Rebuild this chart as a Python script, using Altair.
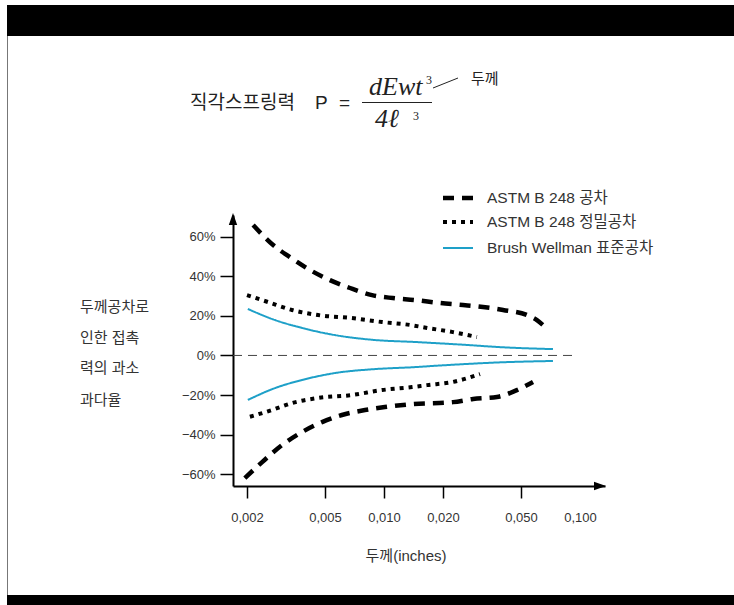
import altair as alt
import pandas as pd

series = ["ASTM B 248 공차", "ASTM B 248 정밀공차", "Brush Wellman 표준공차"]

# ASTM B 248 공차 (dashed)
astm_up_x = [0.00215, 0.00272, 0.00331, 0.00419, 0.00530, 0.00671, 0.00869, 0.0111, 0.0144, 0.0193, 0.0253, 0.0320, 0.0405, 0.0537, 0.0603, 0.0647]
astm_up_y = [65.9, 55.8, 49.7, 43.2, 38.1, 34.1, 30.5, 29.0, 28.0, 26.5, 25.5, 24.5, 23.0, 20.4, 17.9, 15.4]
astm_lo_x = [0.00195, 0.00239, 0.00302, 0.00382, 0.00483, 0.00610, 0.00800, 0.0101, 0.0139, 0.0225, 0.0285, 0.0377, 0.0477, 0.0576]
astm_lo_y = [-62.0, -53.9, -45.3, -38.7, -33.7, -30.1, -27.6, -26.1, -24.6, -23.6, -22.0, -21.0, -17.5, -13.4]

# ASTM B 248 정밀공차 (dotted)
prec_up_x = [0.00200, 0.00256, 0.00339, 0.00461, 0.00687, 0.00977, 0.0136, 0.0166, 0.0225, 0.0298]
prec_up_y = [30.5, 27.0, 23.0, 20.4, 18.9, 16.9, 15.4, 13.9, 11.8, 9.3]
prec_lo_x = [0.00207, 0.00268, 0.00339, 0.00461, 0.00687, 0.00977, 0.0139, 0.0166, 0.0225, 0.0309]
prec_lo_y = [-31.0, -27.6, -24.1, -21.5, -20.0, -17.5, -16.0, -15.0, -13.4, -9.4]

# Brush Wellman 표준공차 (solid blue)
bw_x = [0.00202, 0.00278, 0.00382, 0.00562, 0.00900, 0.0144, 0.0178, 0.0265, 0.0391, 0.0728]
bw_up_y = [23.5, 17.9, 13.9, 10.3, 7.8, 6.8, 6.3, 5.3, 4.2, 3.2]
bw_lo_y = [-22.5, -16.5, -12.4, -8.9, -6.9, -5.9, -5.3, -4.3, -3.5, -2.8]

x_ticks = [0.002, 0.005, 0.010, 0.020, 0.050, 0.100]
y_ticks = [-60, -40, -20, 0, 20, 40, 60]

rows = []
def add(name, part, xs, ys):
    for xv, yv in zip(xs, ys):
        rows.append({"series": name, "curve": name + part, "x": xv, "y": yv})

add(series[0], "+", astm_up_x, astm_up_y)
add(series[0], "-", astm_lo_x, astm_lo_y)
add(series[1], "+", prec_up_x, prec_up_y)
add(series[1], "-", prec_lo_x, prec_lo_y)
add(series[2], "+", bw_x, bw_up_y)
add(series[2], "-", bw_x, bw_lo_y)
df = pd.DataFrame(rows)

one = pd.DataFrame({"k": [0]})
BLUE = "#1ea0c8"
TXT = "#333333"
KFONT = "Liberation Sans, Noto Sans CJK KR"
SERIF = "Liberation Serif"

xscale = alt.Scale(type="log", domain=[0.001697, 0.13416], nice=False)
yscale = alt.Scale(domain=[-66, 71], nice=False, zero=False)

x_axis = alt.Axis(
    values=x_ticks,
    labelExpr="replace(format(datum.value, '.3f'), '.', ',')",
    tickSize=12, tickWidth=1.5, tickColor="black",
    tickOpacity={"condition": {"test": "datum.value > 0.07", "value": 0}, "value": 1},
    domainColor="black", domainWidth=2,
    labelFontSize=13, labelFont=KFONT, labelColor=TXT, labelPadding=13,
    labelFlush=False, labelOverlap=False, grid=False, title=None,
)
y_axis = alt.Axis(
    values=y_ticks,
    labelExpr="(datum.value < 0 ? '\u2212' + abs(datum.value) : datum.value) + '%'",
    tickSize=13, tickWidth=1.5, tickColor="black",
    domainColor="black", domainWidth=2,
    labelFontSize=13, labelFont=KFONT, labelColor=TXT, labelPadding=5,
    labelFlush=False, labelOverlap=False, grid=False, title=None,
)

lines = alt.Chart(df).mark_line(interpolate="monotone", strokeCap="butt").encode(
    x=alt.X("x:Q", scale=xscale, axis=x_axis),
    y=alt.Y("y:Q", scale=yscale, axis=y_axis),
    detail="curve:N",
    color=alt.Color("series:N", scale=alt.Scale(domain=series, range=["#000000", "#000000", BLUE]), legend=None),
    strokeDash=alt.StrokeDash("series:N", scale=alt.Scale(domain=series, range=[[11, 8], [4, 5], [1, 0]]), legend=None),
    strokeWidth=alt.StrokeWidth("series:N", scale=alt.Scale(type="ordinal", domain=series, range=[4.5, 4, 2]), legend=None),
)

zero_line = alt.Chart(one).mark_rule(strokeDash=[9, 6], color="#444444", strokeWidth=1).encode(
    y=alt.datum(0), x=alt.value(0), x2=alt.value(345)
)

def rect(x1, x2, y1, y2, color):
    return alt.Chart(one).mark_rect(color=color).encode(
        x=alt.value(x1), x2=alt.value(x2), y=alt.value(y1), y2=alt.value(y2)
    )

def text(t, x, y, size, font=KFONT, color=TXT, align="left", style=None, baseline="middle"):
    kw = dict(text=t, align=align, baseline=baseline, fontSize=size, font=font, color=color)
    if style:
        kw["fontStyle"] = style
    return alt.Chart(one).mark_text(**kw).encode(x=alt.value(x), y=alt.value(y))

def seg(x1, y1, x2, y2, color="black", width=1.0, dash=None):
    kw = dict(color=color, strokeWidth=width, strokeCap="butt")
    if dash:
        kw["strokeDash"] = dash
    return alt.Chart(one).mark_rule(**kw).encode(
        x=alt.value(x1), y=alt.value(y1), x2=alt.value(x2), y2=alt.value(y2)
    )

# frame decorations
top_bar = rect(-226, 501, -210, -179, "black")
bottom_bar = rect(-226, 501, 380, 390, "black")
left_border = seg(-225.5, -179, -225.5, 380, color="#777777", width=1)

# arrows
arrow_up = alt.Chart(one).mark_point(shape="M -0.7 1 L 0 -1 L 0.7 1 Z", filled=True, color="black", size=144, opacity=1).encode(
    x=alt.value(0), y=alt.value(4)
)
arrow_right = alt.Chart(one).mark_point(shape="M -1 -0.7 L 1 0 L -1 0.7 Z", filled=True, color="black", size=144, opacity=1).encode(
    x=alt.value(367), y=alt.value(271)
)

# formula
formula = [
    text("직각스프링력", -43, -112, 19, color="#222222"),
    text("P", 82, -112, 19, color="#222222"),
    text("=", 106, -112, 19, color="#222222"),
    text("dEwt", 136, -128, 26, font=SERIF, color="#222222", style="italic"),
    text("3", 193, -135, 12, font=SERIF, color="#222222"),
    seg(129, -112.5, 199, -112.5, color="#222222", width=1),
    text("4ℓ", 142, -96, 26, font=SERIF, color="#222222", style="italic"),
    text("3", 180, -99, 12, font=SERIF, color="#222222"),
    seg(200, -127, 225, -137, color="#222222", width=1),
    text("두께", 238, -136, 15, color="#222222"),
]

# legend
legend = [
    seg(210, -17, 240, -17, color="black", width=4.5, dash=[11, 8]),
    seg(210, 7, 240, 7, color="black", width=4, dash=[4, 5]),
    seg(210, 33, 240, 33, color=BLUE, width=2),
    text(series[0], 254, -17, 15.5),
    text(series[1], 254, 7, 15.5),
    text(series[2], 254, 33, 15.5),
]

# axis titles
titles = [
    text("두께공차로", -153, 92, 15),
    text("인한 접촉", -153, 123, 15),
    text("력의 과소", -153, 153, 15),
    text("과다율", -153, 185, 15),
    text("두께(inches)", 173, 341, 15, align="center"),
]

chart = alt.layer(
    top_bar, bottom_bar, left_border, zero_line, lines, arrow_up, arrow_right,
    *formula, *legend, *titles
).properties(
    width=372, height=271,
    padding={"left": 233, "top": 215, "right": 129, "bottom": 119},
    autosize=alt.AutoSizeParams(type="none"),
    background="white",
).configure_view(stroke=None)

chart.save("out.html", embed_options={"renderer": "svg", "actions": False})
